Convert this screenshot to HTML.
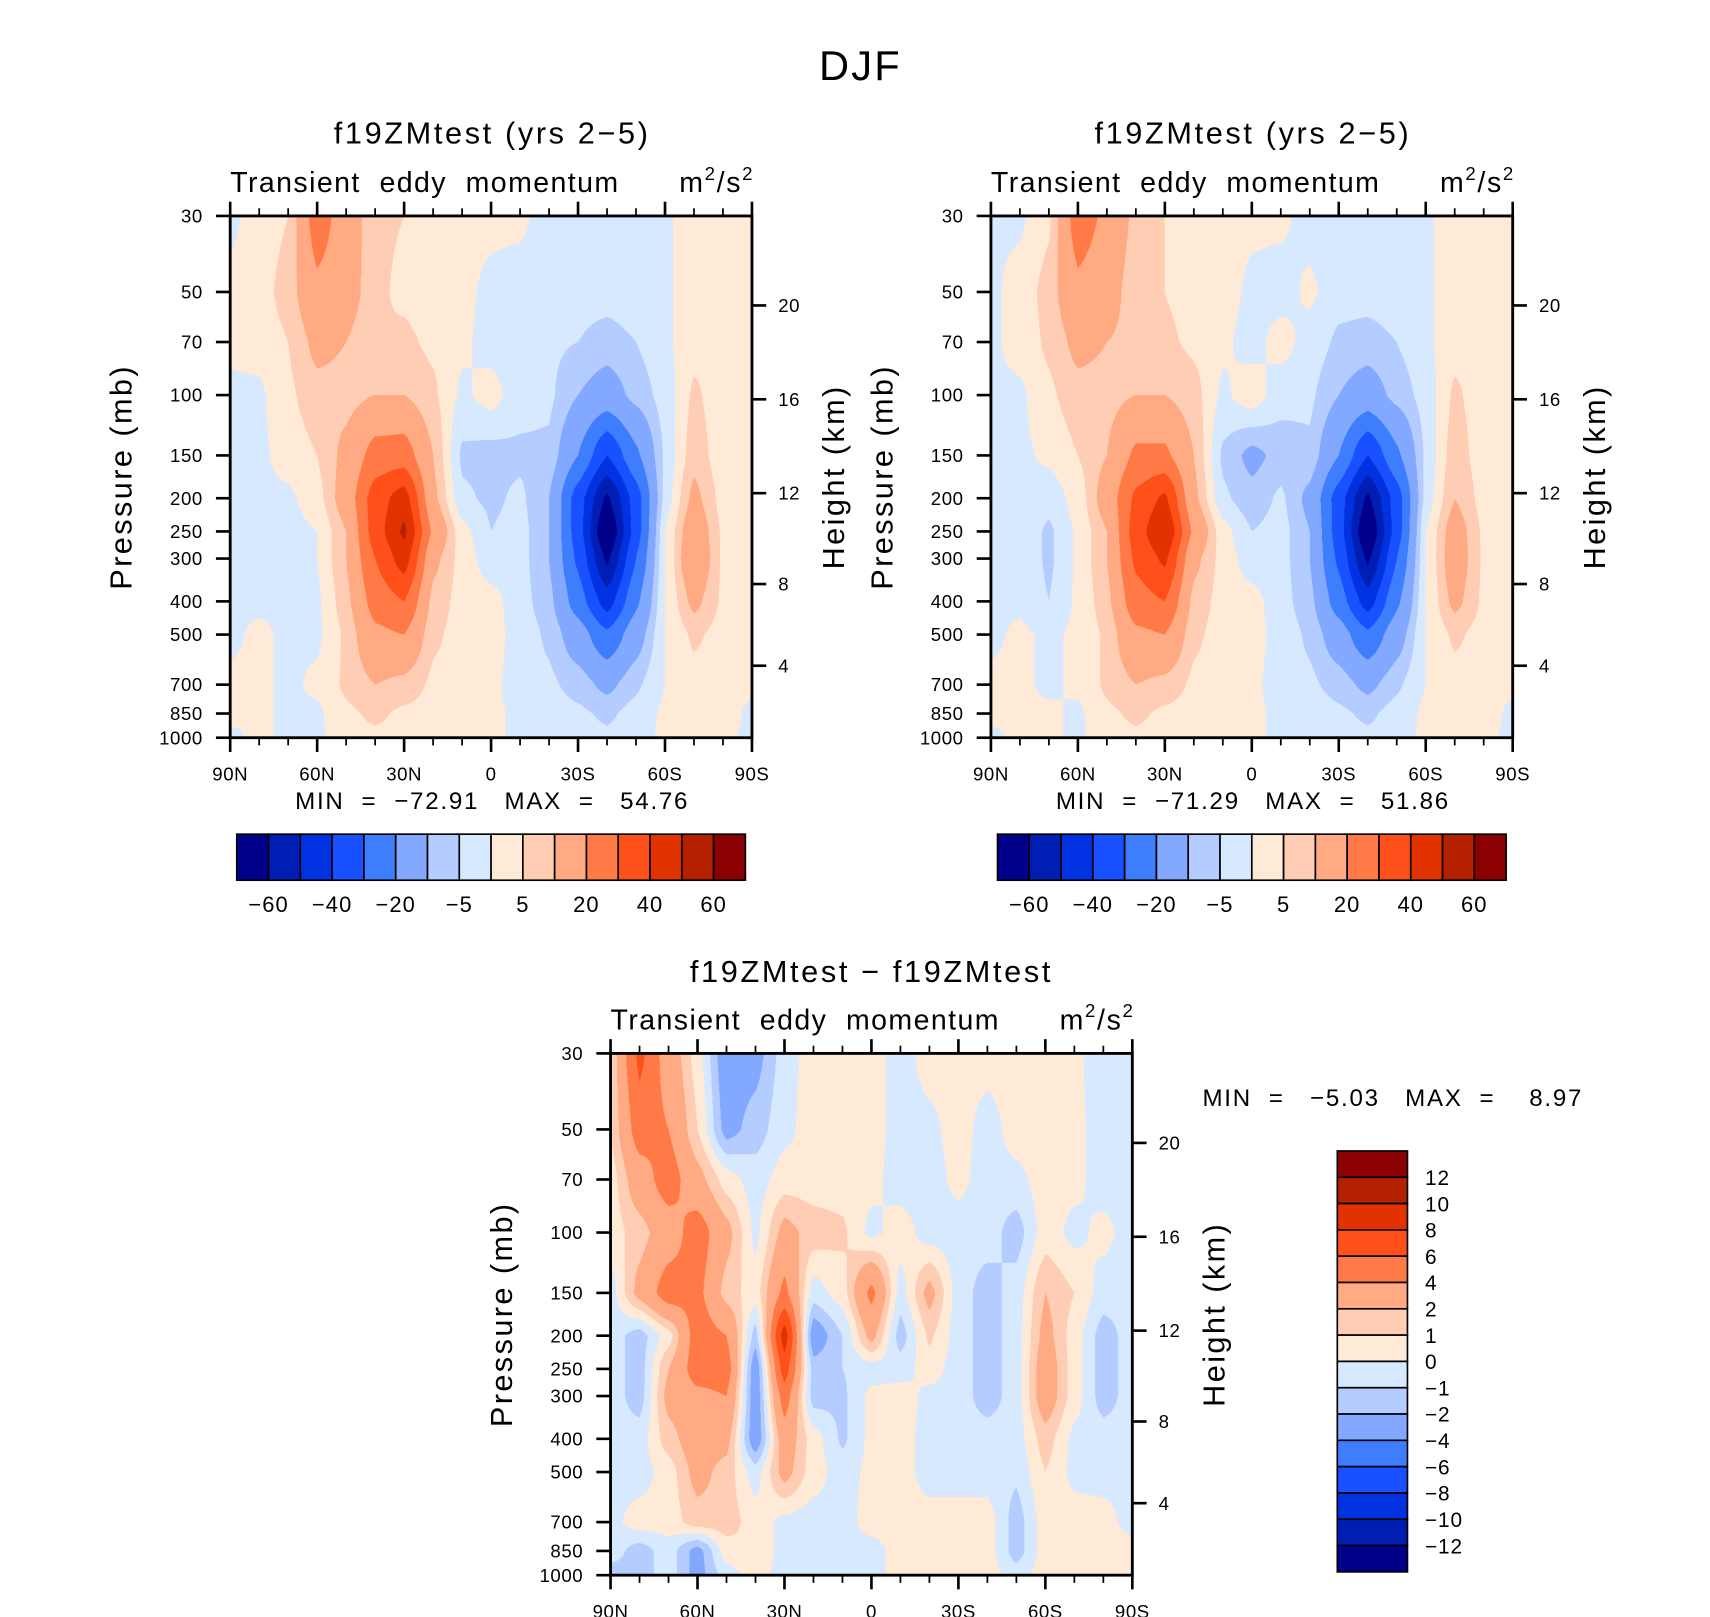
<!DOCTYPE html>
<html><head><meta charset="utf-8">
<style>
html,body{margin:0;padding:0;background:#fff;width:1710px;height:1617px;overflow:hidden}
#root{position:absolute;left:0;top:0;width:1560px;height:1475px;transform:scale(1.096154);transform-origin:0 0}
canvas{position:absolute}
svg{position:absolute;left:0;top:0}
text{font-family:"Liberation Sans",sans-serif;fill:#000}
</style></head>
<body>
<div id="root">
<canvas id="c1"></canvas>
<canvas id="c2"></canvas>
<canvas id="c3"></canvas>
<svg id="ov" width="1560" height="1475" viewBox="0 0 1560 1475"></svg>
</div>
<script>
const lats=[90,80,70,60,50,40,30,20,10,0,-10,-20,-30,-40,-50,-60,-70,-80,-90];
const plevs=[30,50,70,100,150,200,250,300,400,500,700,850,1000];
const levelsAbs=[-60,-50,-40,-30,-20,-10,-5,0,5,10,20,30,40,50,60];
const levelsDiff=[-12,-10,-8,-6,-4,-2,-1,0,1,2,4,6,8,10,12];
const colors=["#00008b","#001eb4","#0032e1","#1950ff","#3f7dff","#82a8ff","#b4ccff","#d7e9ff","#ffe9d7","#ffcdb4","#ffaa82","#ff7a46","#ff5019","#e13200","#b42000","#8b0000"];
const pTickLabels=[30,50,70,100,150,200,250,300,400,500,700,850,1000];
const zTickLabels=[4,8,12,16,20];
const latTickLabels=["90N","60N","30N","0","30S","60S","90S"];
const absTickLabels=["−60","−40","−20","−5","5","20","40","60"];
const diffTickLabels=["12","10","8","6","4","2","1","0","−1","−2","−4","−6","−8","−10","−12"];
const field1=[
[-1,2,5,25,15,6,5,3,2,1,1,-2,-3,-3,-2,-1,3,3,2],
[1,3,7,18,14,6,4,2,1,-1,-2,-3,-3,-3,-2,-1,3,3,2],
[1,2,5,12,10,5,6,4,1,-2,-3,-4,-5,-7,-5,-1,3,3,2],
[-1,-1,4,8,8,10,10,6,-1,2,-3,-4,-10,-14,-8,-3,6,2,1],
[-1,-1,2,5,12,24,25,10,-6,-7,-6,-6,-20,-40,-22,-4,8,2,1],
[-1,-1,-1,3,14,35,45,12,-4,-6,-4,-10,-35,-62,-35,-3,12,3,1],
[-1,-1,-2,0,10,35,52,18,2,-5,-3,-10,-35,-72,-35,0,16,4,2],
[-1,-1,-2,0,10,30,45,12,3,-3,-3,-10,-32,-62,-30,0,18,4,2],
[-1,-1,-1,-1,8,24,30,8,3,2,-3,-8,-25,-45,-22,0,12,4,2],
[-1,1,-1,-1,6,18,20,6,3,2,-2,-6,-15,-28,-14,0,6,3,1],
[1,1,-1,1,6,10,8,4,2,1,-2,-4,-7,-12,-6,0,3,1,1],
[1,1,-1,-1,4,6,4,3,2,1,-1,-2,-4,-6,-3,1,2,2,-1],
[-1,1,-1,-1,3,4,3,2,2,1,-1,-1,-2,-4,-2,1,1,1,-1]];
const field2=[
[-1,-1,4,25,18,8,5,2,2,1,1,-2,-3,-3,-2,-1,3,3,2],
[-1,2,7,18,14,6,5,3,2,-1,-2,1,-3,-3,-2,-1,3,3,2],
[-1,2,6,12,10,8,6,4,1,-2,2,-2,-6,-7,-5,-1,3,3,2],
[-1,-1,4,8,8,10,10,7,-1,3,-3,-4,-10,-14,-8,-3,6,2,1],
[-1,-1,1,5,10,22,22,10,-6,-12,-8,-6,-20,-40,-22,-4,8,2,1],
[-1,-1,-3,2,14,32,42,12,-4,-8,-4,-12,-35,-62,-35,-3,10,3,1],
[-1,-1,-6,1,10,35,50,18,2,-5,-3,-10,-35,-71,-35,0,14,4,2],
[-1,-1,-6,1,10,32,42,12,3,-3,-3,-10,-32,-62,-30,0,15,4,2],
[-1,-1,-5,1,8,26,30,8,3,2,-3,-8,-25,-45,-22,0,12,4,2],
[-1,1,-1,1,6,18,20,6,3,2,-2,-6,-15,-28,-14,0,6,3,1],
[1,1,-1,1,6,10,8,4,2,1,-2,-4,-7,-12,-6,0,3,1,1],
[1,1,1,-1,4,6,4,3,2,1,-1,-2,-4,-6,-3,1,2,2,-1],
[-1,1,1,-1,3,4,3,2,2,1,-1,-1,-2,-4,-2,1,1,1,-1]];
const field3=[
[1,6.5,3,0.5,-3,-2.5,-0.5,0.5,0.5,0.5,-0.5,0.5,0.5,0.5,0.5,0.5,0.2,-0.5,-0.5],
[1,5,4,1,-2.5,-1.5,-0.3,0.5,0.5,0.5,-0.5,-0.3,0.5,-0.5,0.5,0.5,0.3,-0.5,-0.5],
[0.5,3,5,2.5,0.5,-0.5,0.5,0.5,0.5,0.3,-0.5,-0.5,0.3,-0.5,-0.3,0.5,0.3,-0.5,-0.5],
[0.5,1.5,3,5,2.5,-0.3,2.5,1.5,1.2,-0.3,0.5,-0.5,-0.5,-0.5,-1.5,0.5,-0.3,0.3,-0.5],
[-0.5,2.5,5,4.5,1.5,0.5,4.5,-0.5,0.5,4.5,-0.5,2.5,-0.5,-1.5,-0.5,2,1,-0.5,-0.5],
[-0.5,-1.5,0.5,5,4,-1.5,9,-3,-1,2.5,-1.5,1.2,-0.5,-1.5,-0.5,2.5,0.5,-1.5,-0.5],
[-0.5,-1.5,2,5,5,-3,7,-1.5,-1,-0.5,-0.5,0.5,-0.5,-1.5,-0.5,3,0.5,-1.5,-0.5],
[-0.5,-1.5,2.5,3.5,4,-3,5,-1.5,-1.2,0.3,0.5,-0.3,-0.5,-1.5,-0.5,3,0.5,-1.5,-0.5],
[-0.5,-0.5,1.5,3,2.5,-3,3,0.5,-1.2,0.3,0.5,-0.5,-0.5,-0.5,-0.5,1.5,-0.3,-0.5,-0.5],
[-0.5,-0.5,0.5,2.5,1.5,-0.5,2.5,0.5,-0.5,0.3,0.5,-0.5,-0.5,-0.5,-0.8,1,-0.3,-0.5,-0.5],
[-0.3,0.5,0.5,1.5,1.5,0.5,-0.3,-0.5,-0.5,0.5,0.5,0.5,0.5,0.5,-1.5,0.5,0.5,0.5,-0.5],
[-0.5,-1.5,-0.5,-2.5,0.5,1,-0.5,-0.5,-0.5,-0.5,0.5,0.5,0.5,0.5,-1.5,0.5,1,1,0.5],
[-1.5,-1.5,-0.5,-2.5,-0.5,0.5,-0.5,-0.5,-0.5,-0.5,0.5,0.5,0.5,0.5,-0.5,0.5,1,0.5,0.5]];

const NS="http://www.w3.org/2000/svg";
const ov=document.getElementById('ov');
function el(tag,attrs,parent){const e=document.createElementNS(NS,tag);for(const k in attrs)e.setAttribute(k,attrs[k]);(parent||ov).appendChild(e);return e;}
function txt(s,x,y,size,anchor,parent,rot,ls){const t=el('text',{x:x,y:y,'font-size':size,'text-anchor':anchor||'middle'},parent);if(rot)t.setAttribute('transform','rotate(-90 '+x+' '+y+')');if(ls)t.setAttribute('letter-spacing',ls);t.style.whiteSpace='pre';t.textContent=s;return t;}

const W=476,H=476;
function xOf(P,lat){return P.x+(90-lat)/180*W;}
function yOf(P,p){return P.y+Math.log(p/30)/Math.log(1000/30)*H;}
function pOfZ(zkm){const z=zkm*1000;if(z<=11000)return 1013.25*Math.pow(1-2.25577e-5*z,5.25588);return 226.32*Math.exp(-(z-11000)/6341.6);}

function sample(field,lat,p){
  let fi=(90-lat)/10; let i0=Math.min(17,Math.floor(fi)); let tx=fi-i0;
  const lp=Math.log(p); let j0=0;
  for(let j=0;j<plevs.length-1;j++){if(p>=plevs[j]&&p<=plevs[j+1]){j0=j;break;}}
  const ty=(lp-Math.log(plevs[j0]))/(Math.log(plevs[j0+1])-Math.log(plevs[j0]));
  const a=field[j0][i0],b=field[j0][i0+1],c=field[j0+1][i0],d=field[j0+1][i0+1];
  const s=tx*tx*(3-2*tx)*0.35+tx*0.65, u=ty*ty*(3-2*ty)*0.35+ty*0.65;
  return a*(1-s)*(1-u)+b*s*(1-u)+c*(1-s)*u+d*s*u;
}
function hex(c){return [parseInt(c.substr(1,2),16),parseInt(c.substr(3,2),16),parseInt(c.substr(5,2),16)];}
const rgb=colors.map(hex);
function drawField(id,P,field,levels){
  const cv=document.getElementById(id);const R=2;
  cv.width=W*R;cv.height=H*R;cv.style.left=P.x+'px';cv.style.top=P.y+'px';cv.style.width=W+'px';cv.style.height=H+'px';
  const ctx=cv.getContext('2d');const img=ctx.createImageData(W*R,H*R);
  for(let py=0;py<H*R;py++){
    const p=30*Math.exp((py+0.5)/(H*R)*Math.log(1000/30));
    for(let px=0;px<W*R;px++){
      const lat=90-(px+0.5)/(W*R)*180;
      const v=sample(field,lat,p);
      let k=0;while(k<levels.length&&v>=levels[k])k++;
      const c=rgb[k];const o=(py*W*R+px)*4;
      img.data[o]=c[0];img.data[o+1]=c[1];img.data[o+2]=c[2];img.data[o+3]=255;
    }
  }
  ctx.putImageData(img,0,0);
}

function axes(P,name){
  const g=el('g',{});
  
  
  el('rect',{x:P.x,y:P.y,width:W,height:H,fill:'none',stroke:'#000','stroke-width':2.6},g);
  for(let lat=90;lat>=-90;lat-=10){
    const x=xOf(P,lat);const major=(lat%30===0);const L=major?13:7;
    el('line',{x1:x,y1:P.y+H,x2:x,y2:P.y+H+L,stroke:'#000','stroke-width':major?2.4:1.6},g);
    el('line',{x1:x,y1:P.y,x2:x,y2:P.y-L,stroke:'#000','stroke-width':major?2.4:1.6},g);
  }
  latTickLabels.forEach((s,i)=>{const t=txt(s,xOf(P,90-30*i),P.y+H+39,17,'middle',g,false,0.5);
    });
  pTickLabels.forEach(p=>{const y=yOf(P,p);
    el('line',{x1:P.x,y1:y,x2:P.x-13,y2:y,stroke:'#000','stroke-width':2.4},g);
    const t=txt(String(p),P.x-25,y+6,17,'end',g,false,0.5);
    });
  zTickLabels.forEach(z=>{const y=yOf(P,pOfZ(z));
    el('line',{x1:P.x+W,y1:y,x2:P.x+W+13,y2:y,stroke:'#000','stroke-width':2.4},g);
    const t=txt(String(z),P.x+W+24,y+6,17,'start',g,false,0.5);
    });
  const yl=txt('Pressure (mb)',P.x-90,P.y+H/2,28,'middle',g,true,2.2);
  
  const yr=txt('Height (km)',P.x+W+84,P.y+H/2,28,'middle',g,true,2.2);
  
  const st=txt('Transient  eddy  momentum',P.x,P.y-22,26,'start',g,false,1.3);
  
  const u=el('text',{x:P.x+W+2,y:P.y-22,'font-size':26,'text-anchor':'end','letter-spacing':1.5},g);
  
  u.innerHTML='m<tspan dy="-11" font-size="17">2</tspan><tspan dy="11">/s</tspan><tspan dy="-11" font-size="17">2</tspan>';
}

function hColorbar(x0,y0,name){
  const g=el('g',{});
  
  
  const bw=29,bh=42;
  colors.forEach((c,i)=>{const r=el('rect',{x:x0+i*bw,y:y0,width:bw,height:bh,fill:c,stroke:'#000','stroke-width':1.5},g);
    });
  absTickLabels.forEach((s,i)=>{const t=txt(s,x0+(1+2*i)*bw,y0+71,20,'middle',g,false,1);
    });
}

const P1={x:210,y:197},P2={x:904,y:197},P3={x:557,y:961};
drawField('c1',P1,field1,levelsAbs);
drawField('c2',P2,field2,levelsAbs);
drawField('c3',P3,field3,levelsDiff);
axes(P1,'left-panel');axes(P2,'right-panel');axes(P3,'bottom-panel');

let t;
t=txt('DJF',785,73,38,'middle',null,false,2);
t=txt('f19ZMtest (yrs 2−5)',449,131,28,'middle',null,false,2.4);
t=txt('f19ZMtest (yrs 2−5)',1143,131,28,'middle',null,false,2.4);
t=txt('f19ZMtest − f19ZMtest',795,896,28,'middle',null,false,2.4);
t=txt('MIN  =  −72.91   MAX  =   54.76',449,738,22,'middle',null,false,1.6);
t=txt('MIN  =  −71.29   MAX  =   51.86',1143,738,22,'middle',null,false,1.6);
t=txt('MIN  =   −5.03   MAX  =    8.97',1097,1009,22,'start',null,false,1.6);
hColorbar(216,761,'colorbar-1');
hColorbar(910,761,'colorbar-2');

const vg=el('g',{});


const vbh=24;
for(let i=0;i<16;i++){
  const r=el('rect',{x:1220,y:1050+i*vbh,width:64,height:vbh,fill:colors[15-i],stroke:'#000','stroke-width':1.5},vg);
  
  
}
diffTickLabels.forEach((s,i)=>{const tt=txt(s,1300,1050+(i+1)*vbh+7,19,'start',vg,false,0.8);
  
  });
</script>
</body></html>
